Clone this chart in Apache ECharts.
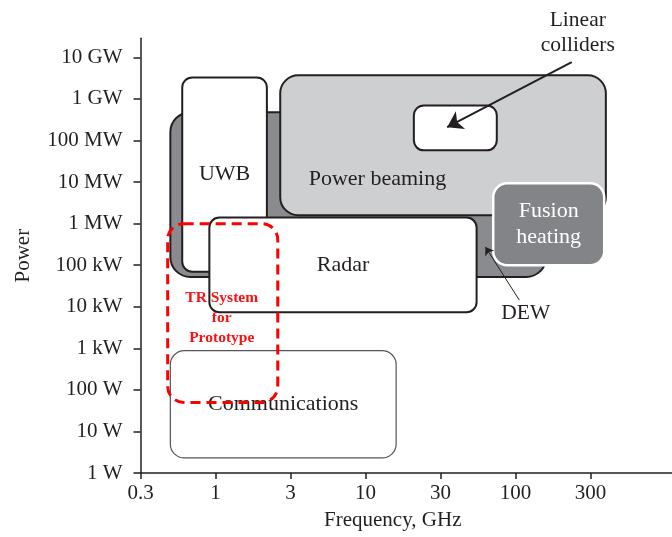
<!DOCTYPE html>
<html>
<head>
<meta charset="utf-8">
<script src="https://cdn.jsdelivr.net/npm/echarts@6/dist/echarts.min.js"></script>
<style>
  html, body { margin: 0; padding: 0; background: #fff; }
  #main { width: 672px; height: 537px; }
</style>
</head>
<body>
<div id="main"></div>
<script>
// tick labels (x ticks sit on half-decade steps)
var freqTicks = ['0.3', '1', '3', '10', '30', '100', '300'];
var powerTicks = ['1 W', '10 W', '100 W', '1 kW', '10 kW', '100 kW', '1 MW', '10 MW', '100 MW', '1 GW', '10 GW'];

// regions: frequency in GHz, power in W
var boxNames = ['DEW', 'Power beaming', 'UWB', 'Linear colliders', 'Radar', 'Fusion heating', 'Communications', 'TR System'];
var boxLabels = ['', 'Power beaming', 'UWB', '', 'Radar', 'Fusion\nheating', 'Communications', 'TR System\nfor\nPrototype'];
var boxFreqLow = [0.5, 2.7, 0.6, 21, 0.91, 71, 0.5, 0.48];
var boxFreqHigh = [160, 400, 2.2, 75, 55, 390, 16, 2.6];
var boxPowLow = [5.2e4, 1.6e6, 7.0e4, 5.8e7, 7.4e3, 1.0e5, 2.3, 50];
var boxPowHigh = [4.8e8, 3.7e9, 3.3e9, 7.0e8, 1.4e6, 9.4e6, 880, 1.0e6];
// label anchor when not centred in the box
var labelFreq = [null, 12, null, null, null, null, null, 1.1];
var labelPow = [null, 1.2e7, null, null, null, null, null, 5.3e3];

// names outside the boxes, with arrows
var noteText = ['Linear\ncolliders', 'DEW'];
var noteFreq = [260, 117];
var notePow = [4.0e10, 7.0e3];
var arrowFromFreq = [237, 106];
var arrowFromPow = [7.7e9, 1.44e4];
var arrowToFreq = [35, 63];
var arrowToPow = [2.1e8, 2.75e5];

var FONT = '"Liberation Serif", "Times New Roman", serif';
var INK = '#231f20';

var boxStyles = [
    { fill: '#8a8b8e', stroke: INK, lineWidth: 2, r: 20 },
    { fill: '#cdcfd1', stroke: INK, lineWidth: 2, r: 18 },
    { fill: '#ffffff', stroke: INK, lineWidth: 2, r: 10 },
    { fill: '#ffffff', stroke: INK, lineWidth: 2, r: 10 },
    { fill: '#ffffff', stroke: INK, lineWidth: 2, r: 10 },
    { fill: '#838487', stroke: '#ffffff', lineWidth: 2.5, r: 14, text: '#ffffff' },
    { fill: '#ffffff', stroke: '#555555', lineWidth: 1.2, r: 14 },
    { fill: 'none', stroke: '#ff0000', lineWidth: 3, r: 16, dash: [10, 6], text: '#ff1010', font: 'bold 15.5px ' + FONT, lineHeight: 20 }
];

var lg = Math.log10;

var boxData = boxNames.map(function (n, i) {
    return [lg(boxFreqLow[i]), lg(boxFreqHigh[i]), lg(boxPowLow[i]), lg(boxPowHigh[i])];
});
var noteData = noteText.map(function (t, i) {
    return [lg(noteFreq[i]), lg(notePow[i])];
});

var chart = echarts.init(document.getElementById('main'));

function renderBox(params, api) {
    var i = params.dataIndex;
    var st = boxStyles[i];
    var p0 = api.coord([api.value(0), api.value(3)]);
    var p1 = api.coord([api.value(1), api.value(2)]);
    var children = [{
        type: 'rect',
        shape: { x: p0[0], y: p0[1], width: p1[0] - p0[0], height: p1[1] - p0[1], r: st.r },
        style: { fill: st.fill, stroke: st.stroke, lineWidth: st.lineWidth, lineDash: st.dash || null }
    }];
    if (boxLabels[i]) {
        var c;
        if (labelFreq[i] != null) {
            c = api.coord([lg(labelFreq[i]), lg(labelPow[i])]);
        } else {
            c = [(p0[0] + p1[0]) / 2, (p0[1] + p1[1]) / 2];
        }
        children.push({
            type: 'text',
            x: c[0], y: c[1],
            style: {
                text: boxLabels[i],
                align: 'center', verticalAlign: 'middle',
                font: st.font || ('22px ' + FONT),
                lineHeight: st.lineHeight || 26,
                fill: st.text || INK
            }
        });
    }
    return { type: 'group', children: children };
}

function renderNote(params, api) {
    var c = api.coord([api.value(0), api.value(1)]);
    return {
        type: 'text',
        x: c[0], y: c[1],
        style: {
            text: noteText[params.dataIndex],
            align: 'center', verticalAlign: 'middle',
            font: '21.5px ' + FONT, lineHeight: 25, fill: INK
        }
    };
}

var option = {
    animation: false,
    grid: { left: 140.5, right: 0, top: 38.3, bottom: 64 },
    xAxis: {
        type: 'value',
        min: -0.5,
        max: 3.043,
        name: 'Frequency, GHz',
        nameLocation: 'middle',
        nameGap: 37,
        nameTextStyle: { fontFamily: FONT, fontSize: 21, color: INK, padding: [0, 27, 0, 0] },
        axisLine: { onZero: false, lineStyle: { color: INK, width: 1.5 } },
        axisTick: {
            length: 6,
            customValues: freqTicks.map(function (t, k) { return k * 0.5 - 0.5; }),
            lineStyle: { color: INK, width: 1.5 }
        },
        axisLabel: {
            customValues: freqTicks.map(function (t, k) { return k * 0.5 - 0.5; }),
            formatter: function (v) { return freqTicks[Math.round((v + 0.5) / 0.5)]; },
            fontFamily: FONT, fontSize: 21, color: INK, margin: 10
        },
        splitLine: { show: false }
    },
    yAxis: {
        type: 'value',
        min: 0,
        max: 10.46,
        name: 'Power',
        nameLocation: 'middle',
        nameGap: 107,
        nameTextStyle: { fontFamily: FONT, fontSize: 21, color: INK },
        axisLine: { onZero: false, lineStyle: { color: INK, width: 1.5 } },
        axisTick: {
            length: 7,
            customValues: powerTicks.map(function (t, k) { return k; }),
            lineStyle: { color: INK, width: 1.5 }
        },
        axisLabel: {
            customValues: powerTicks.map(function (t, k) { return k; }),
            formatter: function (v) { return powerTicks[Math.round(v)]; },
            fontFamily: FONT, fontSize: 21, color: INK, margin: 18
        },
        splitLine: { show: false }
    },
    series: [
        {
            type: 'custom',
            renderItem: renderBox,
            encode: { x: [0, 1], y: [2, 3] },
            data: boxData,
            clip: false,
            silent: true,
            z: 2
        },
        {
            type: 'custom',
            renderItem: renderNote,
            encode: { x: 0, y: 1 },
            data: noteData,
            clip: false,
            silent: true,
            z: 3
        },
        {
            type: 'lines',
            coordinateSystem: 'cartesian2d',
            symbol: ['none', 'arrow'],
            symbolSize: 15,
            lineStyle: { color: INK, width: 2, opacity: 1 },
            silent: true,
            z: 4,
            data: [{ coords: [[lg(arrowFromFreq[0]), lg(arrowFromPow[0])], [lg(arrowToFreq[0]), lg(arrowToPow[0])]] }]
        },
        {
            type: 'lines',
            coordinateSystem: 'cartesian2d',
            symbol: ['none', 'arrow'],
            symbolSize: 8,
            lineStyle: { color: INK, width: 1, opacity: 1 },
            silent: true,
            z: 4,
            data: [{ coords: [[lg(arrowFromFreq[1]), lg(arrowFromPow[1])], [lg(arrowToFreq[1]), lg(arrowToPow[1])]] }]
        }
    ]
};

chart.setOption(option);
</script>
</body>
</html>
